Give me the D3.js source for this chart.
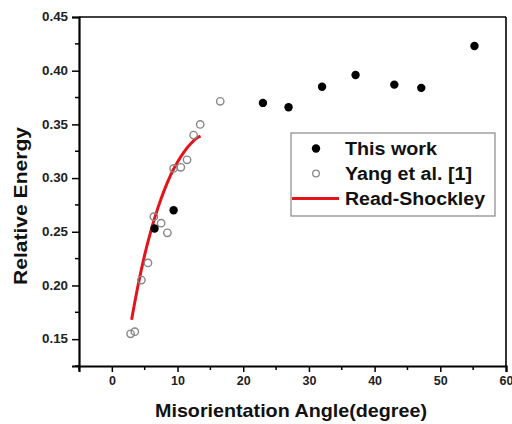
<!DOCTYPE html>
<html><head><meta charset="utf-8">
<script src="https://cdn.jsdelivr.net/npm/d3@7"></script>
<style>body{margin:0;background:#fff}svg{display:block}text{font-family:"Liberation Sans",Arial,sans-serif;font-weight:bold}</style>
</head><body>
<svg id="c" width="512" height="424"></svg>
<script>
// This work (filled)
const workX = [6.5, 9.4, 23.0, 26.9, 32.0, 37.1, 43.0, 47.1, 55.2];
const workY = [0.253, 0.270, 0.370, 0.366, 0.385, 0.396, 0.387, 0.384, 0.423];
// Yang et al. [1] (open)
const yangX = [2.85, 3.5, 4.5, 5.5, 6.4, 7.5, 8.45, 9.4, 10.5, 11.45, 12.45, 13.45, 16.5];
const yangY = [0.155, 0.157, 0.205, 0.221, 0.264, 0.258, 0.249, 0.309, 0.310, 0.317, 0.340, 0.350, 0.3715];
// Read-Shockley curve
const rsX = [3, 4, 5, 6, 7, 8, 9, 10, 11, 12, 13, 13.5];
const rsY = [0.168, 0.2005, 0.2285, 0.252, 0.272, 0.289, 0.3035, 0.315, 0.3245, 0.332, 0.3375, 0.339];
const xTicks = [0, 10, 20, 30, 40, 50, 60];
const yTicks = [0.15, 0.20, 0.25, 0.30, 0.35, 0.40, 0.45];
const legendLabels = ["This work", "Yang et al. [1]", "Read-Shockley"];

const svg = d3.select("#c");
const L = 79, R = 506, T = 17, B = 366;
const x = d3.scaleLinear().domain([-5, 60]).range([L, R]);
const y = d3.scaleLinear().domain([0.125, 0.45]).range([B, T]);

// frame top/right
svg.append("line").attr("x1", L).attr("x2", R).attr("y1", T).attr("y2", T).attr("stroke", "#000").attr("stroke-width", 1.6);
svg.append("line").attr("x1", R).attr("x2", R).attr("y1", T).attr("y2", B).attr("stroke", "#000").attr("stroke-width", 1.6);

// x axis
const xMinor = d3.range(-5, 61, 5).filter(v => v % 10 !== 0);
const gx = svg.append("g").attr("transform", `translate(0,${B})`);
gx.call(d3.axisBottom(x).tickValues(xTicks).tickSize(6).tickPadding(4).tickFormat(d3.format("d")));
gx.selectAll("g.minor").data(xMinor).enter().append("line")
  .attr("x1", d => x(d)).attr("x2", d => x(d)).attr("y1", 0).attr("y2", 4).attr("stroke", "#000").attr("stroke-width", 1.5);
gx.select(".domain").attr("stroke-width", 2.2);
gx.selectAll(".tick line").attr("stroke-width", 1.5);
gx.selectAll("text").attr("font-size", 12.5).attr("font-family", "Liberation Sans, Arial").attr("font-weight", "bold").attr("fill", "#222");

// y axis
const yMinor = d3.range(0.125, 0.451, 0.05);
const gy = svg.append("g").attr("transform", `translate(${L},0)`);
gy.call(d3.axisLeft(y).tickValues(yTicks).tickSize(7).tickPadding(4).tickFormat(d3.format(".2f")));
gy.selectAll("g.minor").data(yMinor).enter().append("line")
  .attr("y1", d => y(d)).attr("y2", d => y(d)).attr("x1", 0).attr("x2", -4).attr("stroke", "#000").attr("stroke-width", 1.5);
gy.select(".domain").attr("stroke-width", 2.2);
gy.selectAll(".tick line").attr("stroke-width", 1.5);
gy.selectAll("text").attr("font-size", 12).attr("font-family", "Liberation Sans, Arial").attr("font-weight", "bold").attr("fill", "#222")
  .attr("textLength", 26).attr("lengthAdjust", "spacingAndGlyphs");

// Read-Shockley
const rs = rsX.map((v, i) => [v, rsY[i]]);
svg.append("path").datum(rs)
  .attr("d", d3.line().x(d => x(d[0])).y(d => y(d[1])).curve(d3.curveMonotoneX))
  .attr("fill", "none").attr("stroke", "#e3141b").attr("stroke-width", 3);

// Yang (open)
svg.append("g").selectAll("circle").data(yangX.map((v, i) => [v, yangY[i]])).enter().append("circle")
  .attr("cx", d => x(d[0])).attr("cy", d => y(d[1])).attr("r", 3.7)
  .attr("fill", "none").attr("stroke", "#888").attr("stroke-width", 1.4);

// This work (filled)
svg.append("g").selectAll("circle").data(workX.map((v, i) => [v, workY[i]])).enter().append("circle")
  .attr("cx", d => x(d[0])).attr("cy", d => y(d[1])).attr("r", 4.2).attr("fill", "#000");

// legend
const lg = svg.append("g");
lg.append("rect").attr("x", 291).attr("y", 133).attr("width", 204).attr("height", 83)
  .attr("fill", "#fff").attr("stroke", "#888").attr("stroke-width", 1.2);
lg.append("circle").attr("cx", 316).attr("cy", 148.5).attr("r", 4.2).attr("fill", "#000");
lg.append("circle").attr("cx", 316).attr("cy", 173.5).attr("r", 3.3).attr("fill", "none").attr("stroke", "#888").attr("stroke-width", 1.3);
lg.append("line").attr("x1", 292).attr("x2", 339).attr("y1", 198.5).attr("y2", 198.5).attr("stroke", "#e3141b").attr("stroke-width", 3);
const ly = [148.5, 173.5, 198.5];
const lw = [92, 127, 140];
legendLabels.forEach((t, i) => {
  lg.append("text").attr("x", 345).attr("y", ly[i] + 6.5).attr("font-size", 17.5).attr("fill", "#111")
    .attr("textLength", lw[i]).attr("lengthAdjust", "spacingAndGlyphs").text(t);
});

// axis titles
svg.append("text").attr("transform", "translate(27,206) rotate(-90)").attr("text-anchor", "middle")
  .attr("font-size", 18.5).attr("fill", "#111").attr("textLength", 158).attr("lengthAdjust", "spacingAndGlyphs").text("Relative Energy");
svg.append("text").attr("x", 291).attr("y", 417).attr("text-anchor", "middle")
  .attr("font-size", 18.5).attr("fill", "#111").attr("textLength", 272).attr("lengthAdjust", "spacingAndGlyphs").text("Misorientation Angle(degree)");
</script>
</body></html>
